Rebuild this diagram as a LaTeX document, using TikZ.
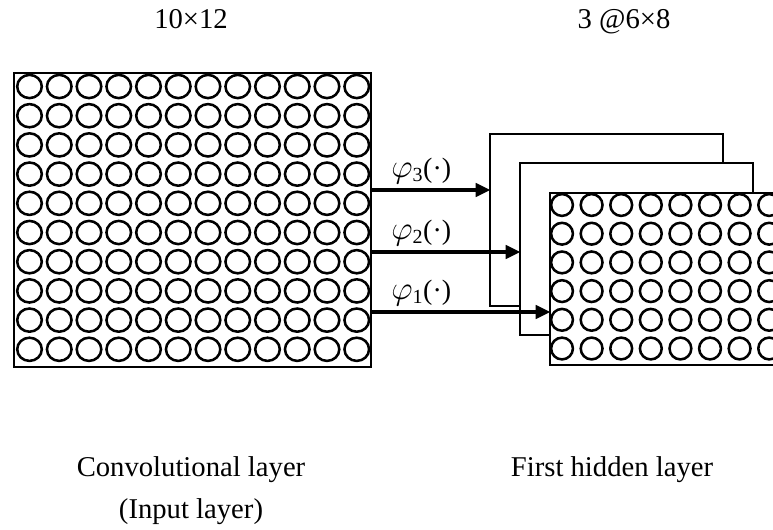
\documentclass[tikz,border=0pt]{standalone}
\usepackage{fontspec}
\setmainfont{Liberation Serif}
\usetikzlibrary{arrows.meta}
\tikzset{
  box/.style={draw=black, line width=1.6pt, fill=white, anchor=north west, inner sep=0pt},
  cell/.style={draw=black, line width=1.9pt},
  arr/.style={line width=2.5pt, -{Triangle[length=11pt,width=10pt]}, shorten >=-1pt},
  lbl/.style={font=\fontsize{21.5}{25}\selectfont, inner sep=0pt, anchor=base},
  phi/.style={font=\fontsize{21}{25}\selectfont, inner sep=0pt, anchor=base west}
}
\newcommand{\phil}[1]{{\fontsize{24}{25}\selectfont$\varphi_{\mbox{\fontsize{15}{16}\selectfont #1}}$}(·)}
\begin{document}
\begin{tikzpicture}[x=0.75pt, y=-0.75pt]
\useasboundingbox (0,0) rectangle (773,529);
\clip (0,0) rectangle (773,529);
% input layer
\node[box, minimum width=267.75pt, minimum height=220.5pt] (in) at (13,72) {};
\foreach \i in {0,...,11}{
  \foreach \j in {0,...,9}{
    \draw[cell] (29.5+29.75*\i, 86.5+29.2*\j) ellipse [x radius=12.3, y radius=11.6];
  }
}
% hidden maps
\node[box, minimum width=174.75pt, minimum height=129pt] (h3) at (489,133) {};
\node[box, minimum width=174.75pt, minimum height=129pt] (h2) at (519,162) {};
\node[box, minimum width=177.75pt, minimum height=129pt] (h1) at (549,192) {};
\foreach \i in {0,...,7}{
  \foreach \j in {0,...,5}{
    \draw[cell] (562+29.6*\i, 205+28.7*\j) circle [radius=10.9];
  }
}
% arrow levels
\coordinate (y3) at (0,190);
\coordinate (y2) at (0,252);
\coordinate (y1) at (0,312);
\draw[arr] (in.east |- y3) -- (h3.west |- y3);
\draw[arr] (in.east |- y2) -- (h2.west |- y2);
\draw[arr] (in.east |- y1) -- (h1.west |- y1);
\node[phi] (p3) at (391,177) {\phil{3}};
\node[phi] (p2) at (391,239) {\phil{2}};
\node[phi] (p1) at (391,299) {\phil{1}};
% labels
\node[lbl] (t1) at (191,28) {10×12};
\node[lbl] (t2) at (624,28) {3 @6×8};
\node[lbl] (b1) at (191,476) {Convolutional layer};
\node[lbl] (b2) at (191,518) {(Input layer)};
\node[lbl] (b3) at (612,476) {First hidden layer};
\end{tikzpicture}
\end{document}
